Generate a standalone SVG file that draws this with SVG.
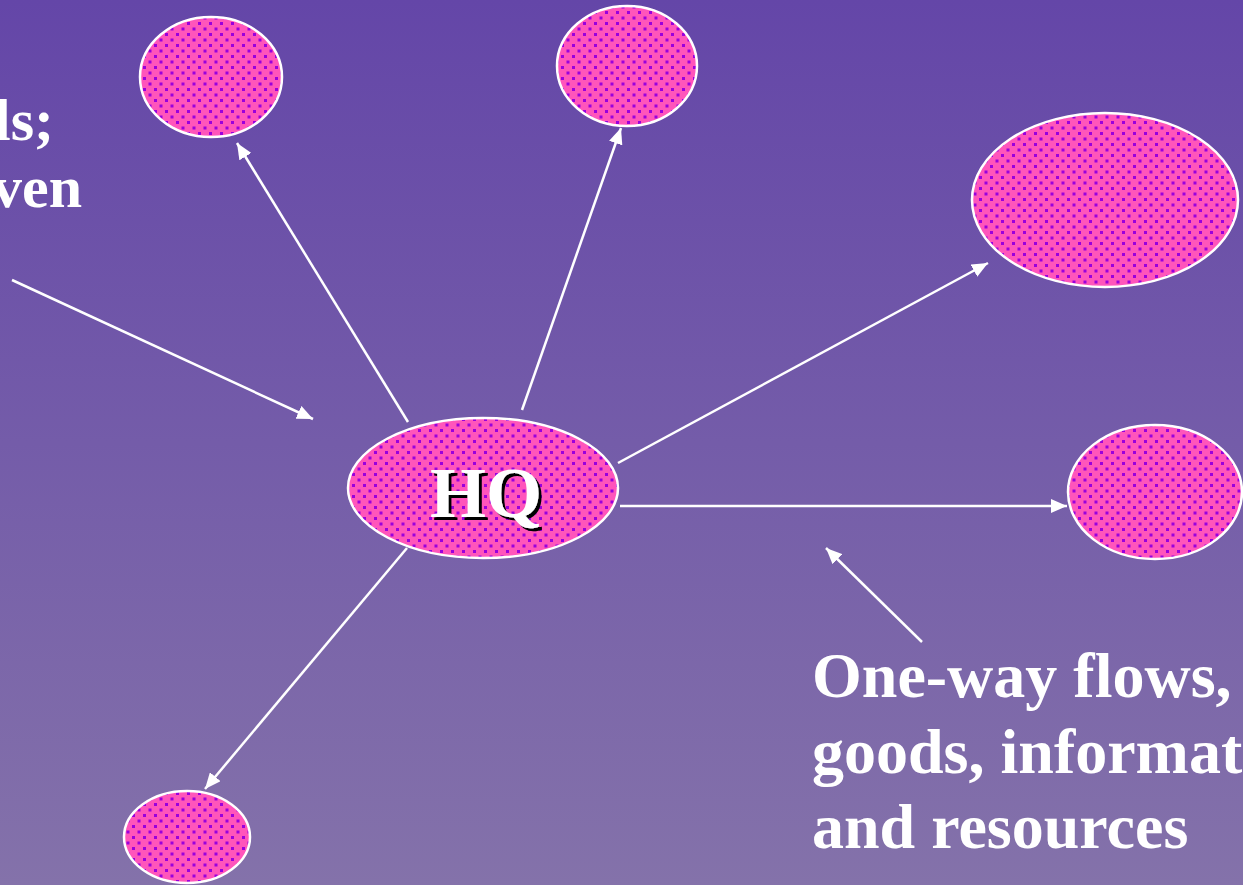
<svg xmlns="http://www.w3.org/2000/svg" width="1243" height="885" viewBox="0 0 1243 885">
<defs>
<linearGradient id="bg" x1="0" y1="0" x2="0" y2="1">
<stop offset="0" stop-color="#6446a8"/>
<stop offset="1" stop-color="#8472aa"/>
</linearGradient>
<pattern id="dots" width="11" height="11" patternUnits="userSpaceOnUse">
<rect width="11" height="11" fill="#ff55bb"/>
<rect x="0" y="0" width="3" height="3" fill="#9a00dc"/>
<rect x="5.5" y="5.5" width="3" height="3" fill="#9a00dc"/>
</pattern>
<marker id="arr" markerUnits="userSpaceOnUse" markerWidth="16" markerHeight="14" refX="16" refY="7" orient="auto">
<path d="M0,0 L16,7 L0,14 Z" fill="#ffffff"/>
</marker>
<filter id="shadow" x="-20%" y="-20%" width="140%" height="140%">
<feOffset in="SourceAlpha" dx="3" dy="3" result="off"/>
<feFlood flood-color="#000000"/>
<feComposite in2="off" operator="in" result="sh"/>
<feMerge><feMergeNode in="sh"/><feMergeNode in="SourceGraphic"/></feMerge>
</filter>
</defs>
<style>
.node{fill:url(#dots);stroke:#ffffff;stroke-width:2.5}
.conn{stroke:#ffffff;stroke-width:2.5;fill:none;marker-end:url(#arr)}
.lbl{font-family:"Liberation Serif","Times New Roman",serif;font-weight:bold;fill:#ffffff}
</style>
<rect width="1243" height="885" fill="url(#bg)"/>
<g id="connectors">
<line class="conn" x1="408" y1="422" x2="237" y2="143"/>
<line class="conn" x1="522" y1="410" x2="621" y2="128"/>
<line class="conn" x1="618" y1="463" x2="988" y2="263"/>
<line class="conn" x1="620" y1="506" x2="1067" y2="506"/>
<line class="conn" x1="407" y1="548" x2="205" y2="789"/>
<line class="conn" x1="12" y1="280" x2="313" y2="419"/>
<line class="conn" x1="922" y1="642" x2="826" y2="548"/>
</g>
<g id="node-topleft"><ellipse class="node" cx="211" cy="77" rx="71" ry="60"/></g>
<g id="node-topmid"><ellipse class="node" cx="627" cy="66" rx="70" ry="60"/></g>
<g id="node-rightbig"><ellipse class="node" cx="1105" cy="200" rx="133" ry="87"/></g>
<g id="node-rightsmall"><ellipse class="node" cx="1155" cy="492" rx="87" ry="67"/></g>
<g id="node-bottomleft"><ellipse class="node" cx="187" cy="837" rx="63" ry="46"/></g>
<g id="node-hq">
<ellipse class="node" cx="483" cy="488" rx="135" ry="70"/>
<text x="486" y="517" text-anchor="middle" filter="url(#shadow)" font-family="Liberation Serif, Times New Roman, serif" font-weight="bold" font-size="72" fill="#ffffff">HQ</text>
</g>
<g id="label-left">
<text class="lbl" font-size="60" x="-6" y="140">ls;</text>
<text class="lbl" font-size="60" x="-8" y="207">ven</text>
</g>
<g id="label-bottomright">
<text class="lbl" font-size="64" x="812" y="697">One-way flows,</text>
<text class="lbl" font-size="64" x="812" y="773">goods, informat</text>
<text class="lbl" font-size="64" x="812" y="848">and resources</text>
</g>
</svg>
